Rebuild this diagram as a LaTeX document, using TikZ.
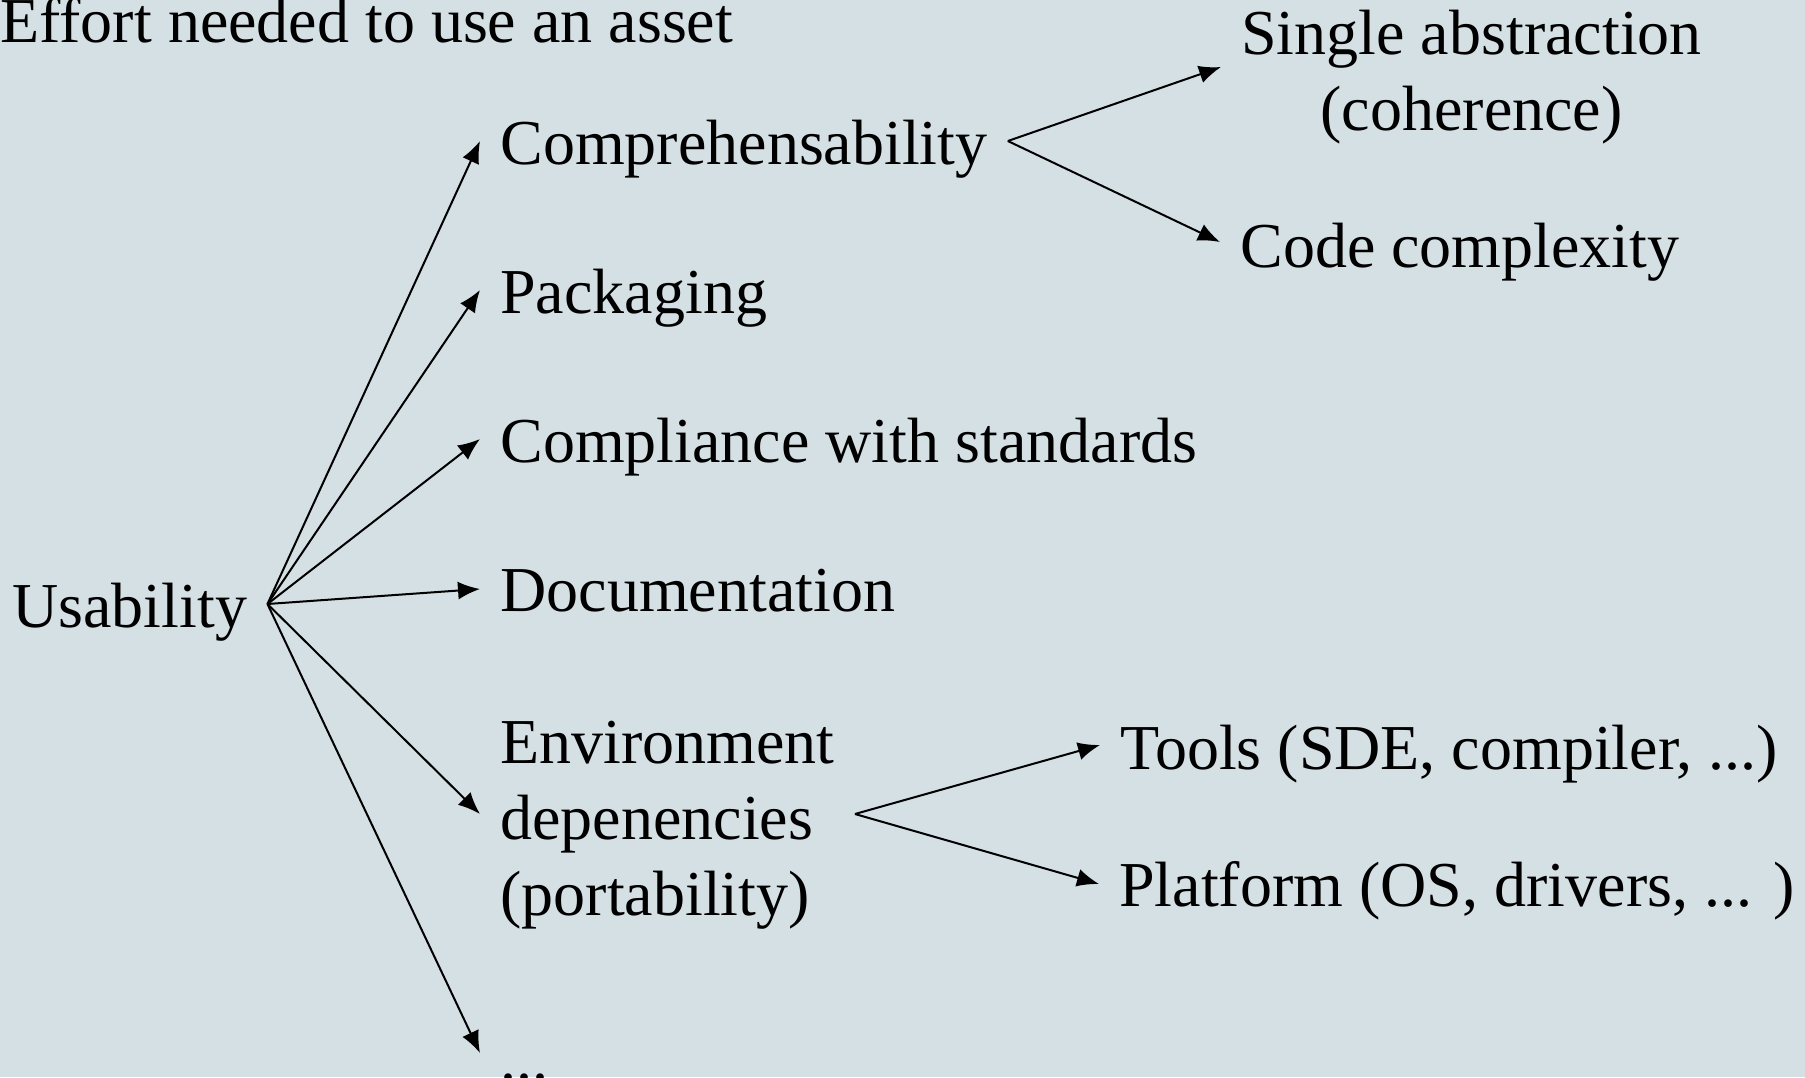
\documentclass[tikz,border=0pt]{standalone}
\usepackage{fontspec}
\setmainfont{Liberation Serif}
\usetikzlibrary{arrows.meta}
\definecolor{bg}{RGB}{213,224,229}
\begin{document}
\begin{tikzpicture}[x=0.5pt,y=-0.5pt,
  lbl/.style={inner xsep=10pt, inner ysep=0pt, font=\fontsize{32}{38}\selectfont, text=black},
  arr/.style={-{Latex[length=11pt,width=9pt]}, line width=1pt}]
\fill[bg] (0,0) rectangle (1805,1077);
\useasboundingbox (0,0) rectangle (1805,1077);
\node[lbl,anchor=base west,inner xsep=0pt] (title) at (0,42) {Effort needed to use an asset};
\node[lbl,anchor=base west] (use) at (-8,627) {Usability};
\node[lbl,anchor=base west] (comp) at (480,164) {Comprehensability};
\node[lbl,anchor=base west] (pack) at (480,313) {Packaging};
\node[lbl,anchor=base west] (compl) at (480,462) {Compliance with standards};
\node[lbl,anchor=base west] (doc) at (480,611) {Documentation};
\node[lbl,anchor=west,align=left] (env) at (480,825) {Environment\\depenencies\\(portability)};
\node[lbl,anchor=base west] (more) at (480,1080) {...};
\node[lbl,anchor=west,align=center] (single) at (1221,77) {Single abstraction\\(coherence)};
\node[lbl,anchor=base west] (code) at (1220,267) {Code complexity};
\node[lbl,anchor=base west] (tools) at (1100,769) {Tools (SDE, compiler, ...)};
\node[lbl,anchor=base west] (plat) at (1099,906) {Platform (OS, drivers, ... )};
\coordinate (hub) at ([yshift=11.5pt]use.base east);
\coordinate (hubc) at ([yshift=11.5pt]comp.base east);
\coordinate (hube) at ([yshift=5.5pt]env.east);
\draw[arr] (hub) -- ([yshift=11.5pt]comp.base west);
\draw[arr] (hub) -- ([yshift=11.5pt]pack.base west);
\draw[arr] (hub) -- ([yshift=11.5pt]compl.base west);
\draw[arr] (hub) -- ([yshift=11pt]doc.base west);
\draw[arr] (hub) -- ([yshift=5.5pt]env.west);
\draw[arr] (hub) -- ([yshift=13.5pt]more.base west);
\draw[arr] (hubc) -- ([yshift=5pt]single.west);
\draw[arr] (hubc) -- ([yshift=12.5pt]code.base west);
\draw[arr] (hube) -- ([yshift=12pt]tools.base west);
\draw[arr] (hube) -- ([yshift=11pt]plat.base west);
\end{tikzpicture}
\end{document}
